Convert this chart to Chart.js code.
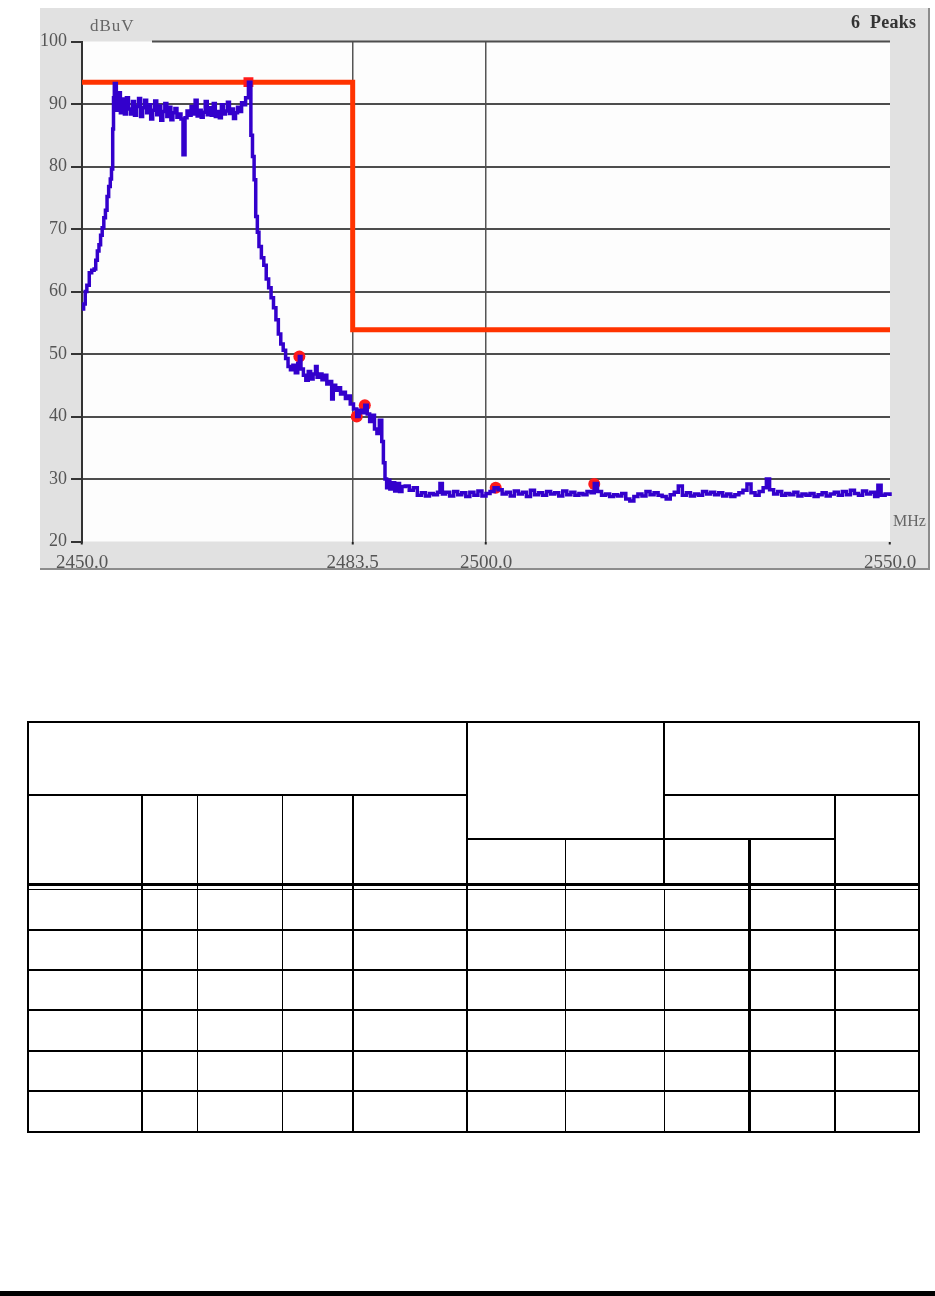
<!DOCTYPE html>
<html>
<head>
<meta charset="utf-8">
<script src="https://cdn.jsdelivr.net/npm/chart.js@4.4.0/dist/chart.umd.min.js"></script>
<style>
    html, body { margin: 0; padding: 0; background: #fff; }
    body { width: 935px; height: 1296px; position: relative; overflow: hidden; }
    #frame {
        position: absolute; left: 40px; top: 8px; width: 888px; height: 560px;
        background: #e1e1e1; border-right: 2px solid #8c8c8c; border-bottom: 2px solid #8c8c8c;
    }
    #frame canvas { position: absolute; left: 0; top: 0; }
    .lbl { position: absolute; font-family: "Liberation Serif", "DejaVu Serif", serif; white-space: pre; line-height: 1; }
    #unitY { left: 90px; top: 17px; font-size: 17px; color: #666; letter-spacing: 1px; }
    #peaks { left: 851px; top: 13px; font-size: 18px; font-weight: bold; color: #333; letter-spacing: 0.3px; }
    #unitX { left: 893px; top: 513px; font-size: 16px; color: #666; }
    .ln { position: absolute; background: #000; }
    #bar { position: absolute; left: 0; top: 1291px; width: 935px; height: 5px; background: #000; }
</style>
</head>
<body>
<div id="frame"><canvas id="spectrum" width="888" height="560"></canvas></div>
<div class="lbl" id="unitY">dBuV</div>
<div class="lbl" id="peaks">6  Peaks</div>
<div class="lbl" id="unitX">MHz</div>
<div id="table"></div>
<div id="bar"></div>

<script>
// ===== DATA (MHz / dBuV) =====
const xTicks = [2450.0, 2483.5, 2500.0, 2550.0];
const yTicks = [20, 30, 40, 50, 60, 70, 80, 90, 100];

// rising edge of the carrier
const riseFreq = [2450.0, 2450.2, 2450.4, 2450.6, 2450.9, 2451.2, 2451.5, 2451.7, 2451.9, 2452.1,
    2452.3, 2452.5, 2452.7, 2452.9, 2453.1, 2453.3, 2453.5, 2453.65, 2453.8, 2453.9, 2454.0];
const riseLevel = [57.2, 58.0, 60.0, 61.0, 63.0, 63.4, 63.6, 65.0, 66.5, 67.5,
    69.0, 70.2, 71.8, 73.0, 75.2, 76.8, 78.0, 79.6, 86.0, 91.0, 93.3];

// in-band plateau
const bandFreq = [2454.25, 2454.5, 2454.75, 2455.0, 2455.25, 2455.5, 2455.75, 2456.0, 2456.25, 2456.5,
    2456.75, 2457.0, 2457.25, 2457.5, 2457.75, 2458.0, 2458.25, 2458.5, 2458.75, 2459.0,
    2459.25, 2459.5, 2459.75, 2460.0, 2460.25, 2460.5, 2460.75, 2461.0, 2461.25, 2461.5,
    2461.75, 2462.0, 2462.25, 2462.5, 2462.75, 2463.0, 2463.25, 2463.5, 2463.75, 2464.0,
    2464.25, 2464.5, 2464.75, 2465.0, 2465.25, 2465.5, 2465.75, 2466.0, 2466.25, 2466.5,
    2466.75, 2467.0, 2467.25, 2467.5, 2467.75, 2468.0, 2468.25, 2468.5, 2468.75, 2469.0,
    2469.25, 2469.5, 2469.75, 2470.0, 2470.25, 2470.6];
const bandLevel = [89.0, 91.8, 88.6, 90.8, 88.4, 91.0, 89.2, 88.4, 90.4, 88.2,
    89.6, 90.9, 88.0, 89.4, 90.6, 88.6, 89.9, 87.6, 89.0, 90.5,
    88.3, 89.7, 87.4, 88.8, 90.1, 88.0, 89.5, 87.5, 88.6, 89.3,
    87.9, 88.4, 87.6, 81.9, 87.8, 88.9, 88.2, 89.6, 88.4, 90.6,
    88.1, 89.0, 87.9, 88.7, 90.4, 88.3, 89.4, 88.2, 90.1, 88.0,
    88.8, 87.8, 89.9, 88.4, 88.9, 90.3, 88.5, 89.2, 87.7, 88.6,
    89.5, 88.8, 90.2, 89.9, 91.0, 93.5];

// falling edge down to the band edge
const fallFreq = [2470.9, 2471.1, 2471.3, 2471.5, 2471.7, 2471.9, 2472.2, 2472.5, 2472.8, 2473.1,
    2473.4, 2473.7, 2474.0, 2474.3, 2474.6, 2474.9, 2475.2, 2475.5, 2475.8, 2476.1,
    2476.4, 2476.7, 2476.9, 2477.1, 2477.4, 2477.7, 2478.0, 2478.3, 2478.6, 2478.9,
    2479.1, 2479.4, 2479.7, 2480.0, 2480.3, 2480.6, 2480.9, 2481.1, 2481.4, 2481.7,
    2482.0, 2482.3, 2482.6, 2482.9, 2483.2, 2483.6, 2484.0, 2484.3, 2484.6, 2485.0,
    2485.3, 2485.6, 2485.9, 2486.2, 2486.5, 2486.8, 2487.1, 2487.3, 2487.5, 2487.7,
    2487.9, 2488.1, 2488.4, 2488.7, 2489.0, 2489.3, 2489.6];
const fallLevel = [85.0, 81.6, 77.9, 72.0, 69.5, 67.2, 65.4, 64.2, 62.0, 60.6,
    59.0, 57.4, 55.5, 53.2, 51.6, 50.6, 49.3, 48.0, 47.5, 48.2,
    47.0, 48.5, 49.6, 47.6, 46.6, 45.8, 47.2, 46.0, 46.8, 48.0,
    46.3, 46.8, 45.9, 46.6, 45.2, 45.6, 42.8, 45.0, 44.2, 44.6,
    43.6, 43.9, 42.9, 43.3, 42.0, 41.2, 40.0, 41.0, 40.6, 41.8,
    40.4, 39.2, 40.2, 38.0, 37.3, 39.4, 36.0, 32.6, 30.0, 28.6,
    29.8, 28.4, 29.4, 28.1, 29.3, 28.0, 28.8];

// noise floor above the band
const floorFreq = [2490.0, 2490.5, 2491.0, 2491.5, 2492.0, 2492.5, 2493.0, 2493.5, 2494.0, 2494.3,
    2494.6, 2495.0, 2495.5, 2496.0, 2496.5, 2497.0, 2497.5, 2498.0, 2498.5, 2499.0,
    2499.5, 2500.0, 2500.5, 2501.0, 2501.5, 2502.0, 2502.5, 2503.0, 2503.5, 2504.0,
    2504.5, 2505.0, 2505.5, 2506.0, 2506.5, 2507.0, 2507.5, 2508.0, 2508.5, 2509.0,
    2509.5, 2510.0, 2510.5, 2511.0, 2511.5, 2512.0, 2512.5, 2513.0, 2513.4, 2513.8,
    2514.3, 2514.8, 2515.3, 2515.8, 2516.3, 2516.8, 2517.3, 2517.8, 2518.3, 2518.8,
    2519.3, 2519.8, 2520.3, 2520.8, 2521.3, 2521.8, 2522.3, 2522.8, 2523.3, 2523.8,
    2524.3, 2524.8, 2525.3, 2525.8, 2526.3, 2526.8, 2527.3, 2527.8, 2528.3, 2528.8,
    2529.3, 2529.8, 2530.3, 2530.8, 2531.3, 2531.8, 2532.3, 2532.8, 2533.3, 2533.8,
    2534.3, 2534.7, 2535.1, 2535.6, 2536.1, 2536.6, 2537.1, 2537.6, 2538.1, 2538.6,
    2539.1, 2539.6, 2540.1, 2540.6, 2541.1, 2541.6, 2542.1, 2542.6, 2543.1, 2543.6,
    2544.1, 2544.6, 2545.1, 2545.6, 2546.1, 2546.6, 2547.1, 2547.6, 2548.1, 2548.5,
    2548.9, 2549.4, 2550.0, 2550.3];
const floorLevel = [28.9, 28.2, 28.6, 27.4, 27.8, 27.3, 27.7, 27.5, 27.9, 29.3,
    27.6, 27.9, 27.3, 28.0, 27.5, 27.8, 27.2, 27.9, 27.4, 28.1,
    27.3, 27.7, 28.0, 28.6, 28.3, 27.6, 27.9, 27.3, 28.1, 27.6,
    27.9, 27.2, 28.2, 27.5, 27.8, 27.4, 28.0, 27.6, 27.8, 27.3,
    28.1, 27.5, 27.9, 27.4, 27.7, 27.5, 28.0, 27.8, 29.3, 28.0,
    27.4, 27.6, 27.2, 27.5, 27.3, 27.7, 26.8, 26.5, 27.2, 27.6,
    27.3, 28.0, 27.5, 27.8, 27.4, 27.2, 26.8, 27.5, 27.9, 28.9,
    27.4, 27.8, 27.3, 27.6, 27.4, 28.0, 27.6, 27.9, 27.5, 27.8,
    27.3, 27.6, 27.2, 27.5, 27.8, 28.2, 29.2, 27.8, 27.4, 28.0,
    28.6, 30.0, 28.3, 27.6, 28.0, 27.4, 27.7, 27.5, 27.9, 27.3,
    27.6, 27.4, 27.7, 27.2, 27.5, 27.8, 27.3, 27.6, 27.9, 27.4,
    28.0, 27.5, 28.2, 27.7, 27.4, 28.1, 27.6, 27.9, 27.2, 29.0,
    27.4, 27.6, 27.3, 27.4];

// limit line (band edge step at 2483.5 MHz)
const limitFreq = [2450.0, 2483.5, 2483.5, 2550.0];
const limitLevel = [93.5, 93.5, 53.9, 53.9];

// the 6 marked peaks
const peakFreq = [2470.6, 2476.9, 2484.0, 2485.0, 2501.2, 2513.4];
const peakLevel = [93.5, 49.6, 40.0, 41.8, 28.6, 29.2];

const traceFreq = riseFreq.concat(bandFreq, fallFreq, floorFreq);
const traceLevel = riseLevel.concat(bandLevel, fallLevel, floorLevel);

const toPoints = (xs, ys) => xs.map((x, i) => ({ x: x, y: ys[i] }));

// ===== PLOT FACE =====
const plotFace = {
    id: "plotFace",
    beforeDraw(chart) {
        const { ctx, chartArea: a } = chart;
        ctx.save();
        ctx.fillStyle = "#fdfdfd";
        ctx.fillRect(a.left, a.top, a.right - a.left, a.bottom - a.top);
        ctx.restore();
    },
    beforeDatasetsDraw(chart) {
        // top grid line stops short of the unit label
        const { ctx, chartArea: a, scales } = chart;
        const y = scales.y.getPixelForValue(100);
        ctx.save();
        ctx.strokeStyle = "#4d4d4d";
        ctx.lineWidth = 2;
        ctx.beginPath();
        ctx.moveTo(a.left + 70, y);
        ctx.lineTo(a.right, y);
        ctx.stroke();
        ctx.restore();
    }
};

Chart.defaults.font.family = "'Liberation Serif', 'DejaVu Serif', serif";

new Chart(document.getElementById("spectrum"), {
    type: "line",
    data: {
        datasets: [
            {
                label: "Trace",
                data: toPoints(traceFreq, traceLevel),
                borderColor: "#3300cc",
                borderWidth: 3.5,
                pointRadius: 0,
                stepped: true,
                clip: false,
                order: 0
            },
            {
                label: "Peaks",
                data: toPoints(peakFreq, peakLevel),
                showLine: false,
                pointStyle: ["rect", "circle", "circle", "circle", "circle", "circle"],
                pointRadius: [7, 6, 6, 6, 6, 6],
                backgroundColor: "#ff1a1a",
                borderColor: "#ff1a1a",
                borderWidth: 0,
                order: 1
            },
            {
                label: "Limit",
                data: toPoints(limitFreq, limitLevel),
                borderColor: "#ff3300",
                borderWidth: 5,
                borderJoinStyle: "miter",
                pointRadius: 0,
                order: 2
            }
        ]
    },
    options: {
        responsive: false,
        animation: false,
        events: [],
        layout: { padding: { top: 33.5, right: 38, left: 0, bottom: 0 } },
        plugins: { legend: { display: false }, tooltip: { enabled: false } },
        scales: {
            x: {
                type: "linear",
                min: 2450,
                max: 2550,
                afterBuildTicks: axis => { axis.ticks = xTicks.map(v => ({ value: v })); },
                afterFit: axis => { axis.height = 26.5; },
                border: { display: false },
                grid: {
                    color: c => (c.tick && (c.tick.value === 2483.5 || c.tick.value === 2500)) ? "#555" : "rgba(0,0,0,0)",
                    lineWidth: 1.5,
                    tickColor: "#222",
                    tickLength: 3,
                    tickWidth: 2
                },
                ticks: {
                    autoSkip: false,
                    maxRotation: 0,
                    padding: 7,
                    color: "#555",
                    font: { size: 19 },
                    callback: v => Number(v).toFixed(1)
                }
            },
            y: {
                min: 20,
                max: 100,
                afterBuildTicks: axis => { axis.ticks = yTicks.map(v => ({ value: v })); },
                afterFit: axis => { axis.width = 42; },
                border: { display: true, color: "#333", width: 2 },
                grid: {
                    color: c => (c.tick && (c.tick.value === 20 || c.tick.value === 100)) ? "rgba(0,0,0,0)" : "#4d4d4d",
                    lineWidth: 2,
                    tickColor: "#333",
                    tickLength: 11,
                    tickWidth: 2
                },
                ticks: {
                    padding: 4,
                    color: "#555",
                    font: { size: 18 }
                }
            }
        }
    },
    plugins: [plotFace]
});

// ===== EMPTY RESULT TABLE UNDER THE PLOT =====
// [x1, y1, x2, y2, width]
const tableLines = [
    [27, 722, 920, 722, 2], [27, 795, 467, 795, 2], [664, 795, 920, 795, 2],
    [466, 839, 836, 839, 2], [27, 884.5, 920, 884.5, 3], [27, 889.5, 920, 889.5, 1.5],
    [27, 930, 920, 930, 1.5], [27, 970, 920, 970, 1.5], [27, 1010, 920, 1010, 1.5],
    [27, 1051, 920, 1051, 1.5], [27, 1091, 920, 1091, 1.5], [27, 1132, 920, 1132, 2.5],
    [28, 721, 28, 1133, 2], [919, 721, 919, 1133, 2], [466.5, 721, 466.5, 1133, 2],
    [664, 721, 664, 886, 2], [664, 889, 664, 1133, 1],
    [141.5, 795, 141.5, 1133, 2], [197, 795, 197, 1133, 1], [282, 795, 282, 1133, 1],
    [353, 795, 353, 1133, 2], [565, 839, 565, 1133, 1], [749.5, 839, 749.5, 1133, 2.5],
    [835, 795, 835, 1133, 2]
];

const table = document.getElementById("table");
tableLines.forEach(([x1, y1, x2, y2, w]) => {
    const d = document.createElement("div");
    d.className = "ln";
    if (y1 === y2) {
        d.style.left = x1 + "px";
        d.style.top = (y1 - w / 2) + "px";
        d.style.width = (x2 - x1) + "px";
        d.style.height = w + "px";
    } else {
        d.style.left = (x1 - w / 2) + "px";
        d.style.top = y1 + "px";
        d.style.width = w + "px";
        d.style.height = (y2 - y1) + "px";
    }
    table.appendChild(d);
});
</script>
</body>
</html>
